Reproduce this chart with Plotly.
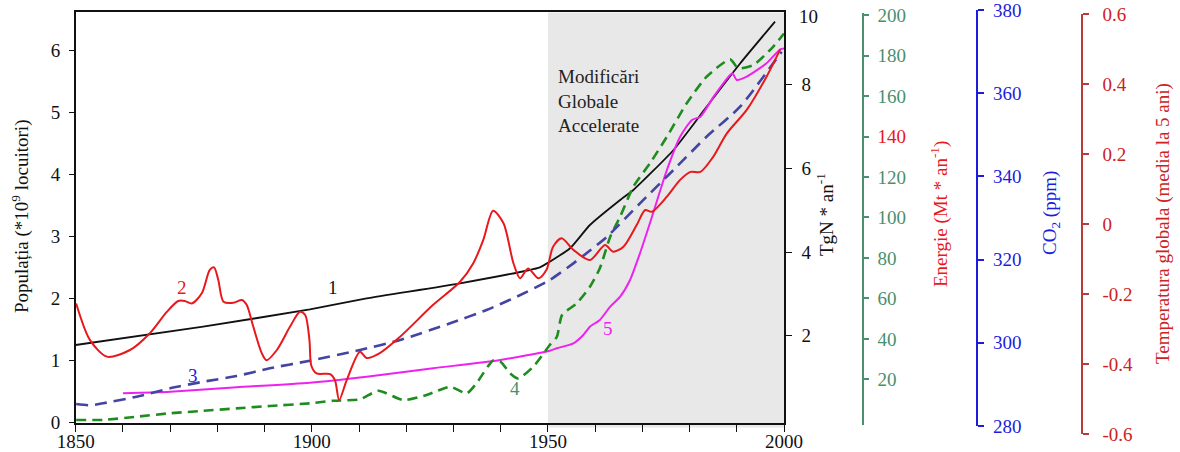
import plotly.graph_objects as go

W, H = 1180, 452

# ---------------- data ----------------
pop_years = [1850, 1877, 1899.6, 1911.6, 1931.4, 1948.3, 1950.4, 1954.7, 1958.9, 1965.3, 1968.1, 1976.6, 1983.6, 1990.7, 1998.1]
pop_vals = [1.25, 1.545, 1.826, 2.003, 2.245, 2.503, 2.594, 2.81, 3.185, 3.589, 3.75, 4.395, 5.09, 5.79, 6.465]

temp_years = [1850.1, 1853.0, 1856.6, 1861.5, 1865.7, 1869.3, 1871.7, 1873.1, 1874.6, 1876.7, 1878.4, 1879.3, 1880.2,
              1881.3, 1883.4, 1885.2, 1886.2, 1887.6, 1889.4, 1890.4, 1892.6, 1895.4, 1897.5, 1898.6, 1899.5, 1899.9,
              1901.0, 1903.9, 1904.9, 1905.8, 1907.4, 1910.2, 1911.6, 1914.4, 1918.7, 1925.7, 1931.4, 1934.2, 1936.3,
              1938.4, 1940.6, 1942.7, 1944.1, 1945.8, 1948.0, 1949.7, 1951.1, 1952.9, 1955.4, 1958.9, 1962.1, 1963.8,
              1966.0, 1968.8, 1970.6, 1972.0, 1975.2, 1978.0, 1980.2, 1982.3, 1985.0, 1987.9, 1992.1, 1996.3, 1999.2]
temp_vals = [-0.227, -0.331, -0.379, -0.36, -0.312, -0.251, -0.22, -0.22, -0.227, -0.198, -0.131, -0.124, -0.16,
             -0.222, -0.225, -0.217, -0.231, -0.293, -0.369, -0.389, -0.36, -0.293, -0.251, -0.26, -0.331, -0.405,
             -0.427, -0.429, -0.446, -0.503, -0.446, -0.365, -0.383, -0.369, -0.322, -0.231, -0.165, -0.112, -0.046,
             0.038, 0.002, -0.112, -0.155, -0.127, -0.155, -0.131, -0.065, -0.041, -0.074, -0.103, -0.06, -0.079,
             -0.065, -0.003, 0.04, 0.035, 0.078, 0.126, 0.149, 0.149, 0.192, 0.259, 0.326, 0.421, 0.499]

co2_years = [1850.1, 1853.0, 1855.8, 1862.9, 1870.0, 1877.0, 1884.1, 1891.1, 1899.6, 1910.2, 1918.7, 1929.3, 1937.0,
             1943.4, 1950.4, 1955.4, 1962.5, 1969.5, 1976.6, 1983.6, 1990.7, 1999.5]
co2_vals = [285.29, 284.98, 285.46, 287.04, 289.06, 290.65, 292.02, 293.87, 295.7, 298.27, 300.67, 304.69, 307.88,
            311.08, 315.1, 319.1, 325.5, 333.53, 341.54, 349.54, 356.75, 369.98]

energy_years = [1850.1, 1855.8, 1862.9, 1870.0, 1877.0, 1884.1, 1891.1, 1899.6, 1904.6, 1910.2, 1914.1, 1919.4, 1924.3,
                1929.3, 1932.8, 1934.9, 1938.4, 1940.0, 1942.0, 1943.7, 1946.9, 1950.4, 1951.9, 1953.0, 1956.1,
                1958.9, 1961.0, 1963.2, 1965.3, 1968.1, 1971.6, 1975.2, 1979.4, 1983.6, 1988.6, 1990.3, 1993.5,
                1997.7, 2000.0]
energy_vals = [0, 0, 1.6, 3.3, 4.5, 5.7, 6.9, 8.2, 9.5, 10.2, 14.4, 9.8, 12.3,
               16.4, 13.1, 18.2, 29.4, 28.7, 23.0, 20.5, 26.3, 37.0, 41.1, 51.8, 57.6,
               65.8, 74.9, 90.5, 100.4, 115.2, 126.7, 139.9, 156.4, 169.5, 178.1, 173.7, 175.3,
               184.3, 190.9]

tgn_years = [1860.0, 1870.0, 1884.1, 1899.6, 1911.6, 1925.7, 1939.9, 1950.4, 1951.9, 1955.4, 1957.5, 1958.9, 1961.0,
             1963.2, 1965.3, 1967.4, 1969.5, 1971.6, 1975.2, 1978.0, 1980.5, 1982.3, 1985.1, 1988.6, 1989.1, 1990.0,
             1992.1, 1996.3, 1999.2, 2000.0]
tgn_vals = [0.628, 0.666, 0.771, 0.881, 1.024, 1.225, 1.423, 1.645, 1.702, 1.821, 2.02, 2.218, 2.378,
            2.695, 2.934, 3.333, 3.97, 4.686, 5.958, 6.753, 7.152, 7.231, 7.708, 8.226, 8.267, 8.107,
            8.186, 8.506, 8.84, 8.86]

pop_ticks = [0, 1, 2, 3, 4, 5, 6]
tgn_ticks = [2, 4, 6, 8]
energy_ticks = [20, 40, 60, 80, 100, 120, 140, 160, 180, 200]
co2_ticks = [280, 300, 320, 340, 360, 380]
temp_ticks = [-0.6, -0.4, -0.2, 0, 0.2, 0.4, 0.6]
temp_ticktext = ["-0.6", "-0.4", "-0.2", "0", "0.2", "0.4", "0.6"]
x_ticks = [1850, 1900, 1950, 2000]

# ---------------- style ----------------
FONT = "Liberation Serif"
FS = 19
C_BLACK = "#111111"
C_RED = "#e8181c"
C_BLUE_D = "#4444a2"
C_GREEN = "#1f8c1f"
C_MAG = "#ee22ee"
C_EN = "#4a8f6e"
C_CO2 = "#1c1ce0"
C_TEMP_AX = "#b83a3a"
C_TEMP = "#cc2222"


def px_x(x):
    return x / W


def px_y(y):
    return 1 - y / H


x_dom = [px_x(75.7), px_x(784)]
y_dom = [px_y(422.5), px_y(12)]

fig = go.Figure()

fig.add_trace(go.Scatter(x=energy_years, y=energy_vals, yaxis="y3", mode="lines",
                         line=dict(color=C_GREEN, width=2.6, dash="10px,6px", shape="spline", smoothing=0.6)))
fig.add_trace(go.Scatter(x=co2_years, y=co2_vals, yaxis="y4", mode="lines",
                         line=dict(color=C_BLUE_D, width=2.6, dash="12px,7px", shape="spline", smoothing=0.6)))
fig.add_trace(go.Scatter(x=tgn_years, y=tgn_vals, yaxis="y2", mode="lines",
                         line=dict(color=C_MAG, width=2, shape="spline", smoothing=0.6)))
fig.add_trace(go.Scatter(x=temp_years, y=temp_vals, yaxis="y5", mode="lines",
                         line=dict(color=C_RED, width=2, shape="spline", smoothing=0.8)))
fig.add_trace(go.Scatter(x=pop_years, y=pop_vals, yaxis="y", mode="lines",
                         line=dict(color=C_BLACK, width=1.8, shape="spline", smoothing=0.5)))

fig.add_shape(type="rect", xref="x", yref="paper", x0=1950, x1=2000,
              y0=px_y(427.5), y1=px_y(12.5), fillcolor="#e8e8e8", line=dict(width=0), layer="below")

tickfont = dict(family=FONT, size=FS, color=C_BLACK)

energy_ticktext = []
for v in energy_ticks:
    if v == 140:
        energy_ticktext.append('<span style="color:%s">%d</span>' % (C_RED, v))
    else:
        energy_ticktext.append(str(v))

common = dict(showgrid=False, zeroline=False, automargin=False, ticklabeloverflow="allow")

fig.update_layout(
    width=W, height=H,
    margin=dict(l=0, r=0, t=0, b=0, autoexpand=False),
    paper_bgcolor="white", plot_bgcolor="rgba(0,0,0,0)",
    showlegend=False,
    font=dict(family=FONT, size=FS, color=C_BLACK),
    xaxis=dict(domain=x_dom, range=[1850, 2000], tickvals=x_ticks, ticks="outside", ticklen=8,
               tickcolor=C_BLACK, tickwidth=1.3, showline=True, linecolor=C_BLACK, linewidth=1.5,
               mirror=True, tickfont=tickfont, ticklabelstandoff=-7,
               minor=dict(dtick=10, tick0=1850, ticks="outside", ticklen=8, tickcolor=C_BLACK, tickwidth=1.3,
                          showgrid=False),
               anchor="y", **common),
    yaxis=dict(domain=y_dom, range=[0, 6.62], tickvals=pop_ticks, ticks="outside", ticklen=5,
               tickcolor=C_BLACK, tickwidth=1.3, showline=True, linecolor=C_BLACK, linewidth=1.5,
               tickfont=tickfont, ticklabelstandoff=5, anchor="x", **common),
    yaxis2=dict(overlaying="y", side="right", anchor="x", range=[-0.07, 9.73], tickvals=tgn_ticks,
                ticks="outside", ticklen=6, tickcolor=C_BLACK, tickwidth=1.3, showline=True,
                linecolor=C_BLACK, linewidth=1.5, tickfont=tickfont,
                ticklabelstandoff=6, **common),
    yaxis3=dict(anchor="free", position=px_x(862.7), side="right",
                domain=[px_y(425), px_y(13)], range=[-2.5, 201], tickvals=energy_ticks,
                ticktext=energy_ticktext, ticks="outside", ticklen=5, tickcolor=C_EN, tickwidth=1.5,
                showline=True, linecolor=C_EN, linewidth=1.8,
                tickfont=dict(family=FONT, size=FS, color=C_EN), ticklabelstandoff=5, **common),
    yaxis4=dict(anchor="free", position=px_x(977.3), side="right",
                domain=[px_y(426), px_y(10)], range=[280, 380], tickvals=co2_ticks,
                ticks="outside", ticklen=6, tickcolor=C_CO2, tickwidth=1.5,
                showline=True, linecolor=C_CO2, linewidth=1.8,
                tickfont=dict(family=FONT, size=FS, color=C_CO2), ticklabelstandoff=5, **common),
    yaxis5=dict(anchor="free", position=px_x(1081.7), side="right",
                domain=[px_y(434), px_y(14)], range=[-0.6, 0.6], tickvals=temp_ticks,
                ticktext=temp_ticktext, ticks="outside", ticklen=6, tickcolor=C_TEMP_AX, tickwidth=1.5,
                showline=True, linecolor=C_TEMP_AX, linewidth=1.8,
                tickfont=dict(family=FONT, size=FS, color=C_TEMP), ticklabelstandoff=10, **common),
)

ann = []


def add_text(text, x, y, color, angle=0, xanchor="center", yanchor="middle", size=FS, align="center"):
    ann.append(dict(text=text, x=px_x(x), y=px_y(y), xref="paper", yref="paper", showarrow=False,
                    textangle=angle, xanchor=xanchor, yanchor=yanchor, align=align,
                    font=dict(family=FONT, size=size, color=color)))


# axis titles
add_text("Populația (*10<sup>9</sup> locuitori)", 20, 217, C_BLACK, angle=-90)
add_text("TgN * an<sup>-1</sup>", 825, 215, C_BLACK, angle=-90)
add_text("Energie (Mt * an<sup>-1</sup>)", 940, 214, C_RED, angle=-90)
add_text("CO<sub>2</sub> (ppm)", 1051, 213, C_CO2, angle=-90)
add_text("Temperatura globala (media la 5 ani)", 1163, 224, C_TEMP, angle=-90)
# top label of TgN axis
add_text("10", 797, 16, C_BLACK, xanchor="left")
# shaded area text
add_text("Modificări<br>Globale<br>Accelerate", 556, 101, "#222222", xanchor="left", align="left")
# curve labels
add_text("1", 333, 287, C_BLACK)
add_text("2", 182, 287, C_RED)
add_text("3", 193, 375, C_CO2)
add_text("4", 515, 388, "#4a9070")
add_text("5", 608, 328, C_MAG)

fig.update_layout(annotations=ann)

fig.write_html("out.html")
